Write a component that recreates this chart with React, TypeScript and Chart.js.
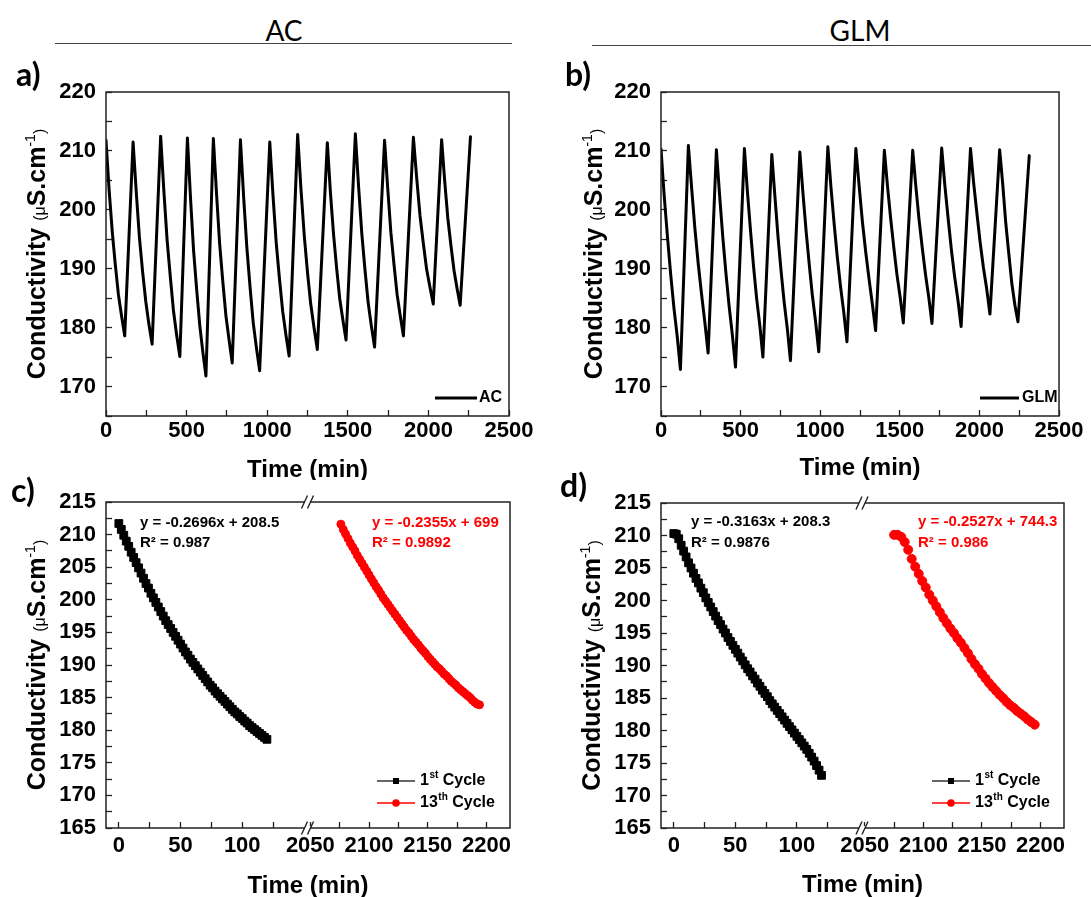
import { useEffect, useRef } from "react";
import { Chart, registerables } from "chart.js";

Chart.register(...registerables);

const AXIS_FONT = "'Liberation Sans', Arial, Helvetica, sans-serif";
const HEAD_FONT = "Lato, 'Open Sans', sans-serif";
Chart.defaults.font.family = AXIS_FONT;

// ---------------- data ----------------
// a) AC, full run: each cycle = peak, points along the decay, trough
const acTime = [
  0, 19, 39, 58, 77, 97, 116,
  168, 188, 207, 227, 247, 266, 286,
  339, 359, 379, 399, 418, 438, 458,
  505, 524, 543, 563, 582, 601, 620,
  666, 686, 705, 725, 744, 764, 783,
  834, 854, 874, 894, 913, 933, 953,
  1016, 1036, 1056, 1076, 1096, 1116, 1136,
  1189, 1209, 1230, 1250, 1270, 1291, 1311,
  1373, 1392, 1412, 1431, 1450, 1470, 1489,
  1547, 1567, 1587, 1607, 1626, 1646, 1666,
  1728, 1748, 1767, 1787, 1806, 1826, 1845,
  1907, 1928, 1948, 1969, 1989, 2010, 2030,
  2082, 2101, 2120, 2140, 2159, 2178, 2197,
  2261,
];
const acCond = [
  211.8, 203.5, 196.2, 190.6, 185.6, 181.9, 178.6,
  211.5, 202.9, 195.4, 189.5, 184.4, 180.6, 177.2,
  212.5, 203.2, 194.9, 188.6, 183.0, 178.8, 175.1,
  212.2, 202.1, 193.2, 186.3, 180.3, 175.8, 171.8,
  212.1, 202.6, 194.2, 187.7, 182.0, 177.8, 174.0,
  211.9, 202.1, 193.5, 186.8, 180.9, 176.6, 172.7,
  211.5, 202.4, 194.4, 188.3, 182.8, 178.8, 175.2,
  212.8, 203.7, 195.6, 189.4, 184.0, 179.9, 176.3,
  211.4, 203.0, 195.7, 190.0, 184.9, 181.2, 177.9,
  212.9, 203.9, 195.9, 189.7, 184.3, 180.3, 176.7,
  211.8, 203.5, 196.2, 190.6, 185.6, 181.9, 178.6,
  212.3, 205.2, 199.0, 194.2, 189.9, 186.8, 184.0,
  211.9, 204.9, 198.7, 193.9, 189.7, 186.6, 183.8,
  212.4,
];

// b) GLM, full run
const glmTime = [
  0, 20, 41, 61, 81, 102, 122,
  172, 193, 213, 234, 255, 275, 296,
  348, 368, 388, 408, 428, 448, 468,
  524, 543, 563, 582, 601, 621, 640,
  696, 716, 735, 755, 774, 794, 813,
  872, 892, 912, 932, 951, 971, 991,
  1048, 1068, 1088, 1108, 1128, 1148, 1168,
  1224, 1245, 1265, 1286, 1307, 1327, 1348,
  1403, 1423, 1443, 1463, 1482, 1502, 1522,
  1581, 1601, 1621, 1642, 1662, 1682, 1702,
  1763, 1783, 1804, 1824, 1844, 1865, 1885,
  1944, 1964, 1985, 2005, 2025, 2046, 2066,
  2127, 2146, 2165, 2184, 2204, 2223, 2242,
  2313,
];
const glmCond = [
  210.3, 202.4, 195.3, 189.0, 183.4, 178.5, 172.9,
  210.9, 203.5, 196.8, 190.8, 185.6, 181.0, 175.7,
  210.2, 202.5, 195.4, 189.2, 183.6, 178.8, 173.3,
  210.4, 203.0, 196.2, 190.2, 184.9, 180.3, 175.0,
  209.4, 202.1, 195.4, 189.4, 184.2, 179.7, 174.4,
  209.8, 202.7, 196.2, 190.5, 185.4, 181.0, 175.9,
  210.7, 203.7, 197.5, 191.8, 186.9, 182.6, 177.6,
  210.4, 203.9, 198.0, 192.8, 188.2, 184.1, 179.5,
  210.1, 203.9, 198.4, 193.4, 189.0, 185.2, 180.8,
  210.1, 203.9, 198.3, 193.3, 188.9, 185.1, 180.7,
  210.5, 204.1, 198.4, 193.2, 188.7, 184.7, 180.2,
  210.4, 204.5, 199.2, 194.4, 190.2, 186.5, 182.3,
  210.2, 204.5, 197.9, 192.7, 187.4, 183.8, 181.0,
  209.2,
];

// c) AC 1st cycle (every 2 min) and 13th cycle
const acC1Time = [0, 2, 4, 6, 8, 10, 12, 14, 16, 18, 20, 22, 24, 26, 28, 30, 32, 34, 36, 38, 40, 42, 44, 46, 48, 50, 52, 54, 56, 58, 60, 62, 64, 66, 68, 70, 72, 74, 76, 78, 80, 82, 84, 86, 88, 90, 92, 94, 96, 98, 100, 102, 104, 106, 108, 110, 112, 114, 116, 118, 120];
const acC1Cond = [211.7, 210.8, 209.9, 209.0, 208.2, 207.3, 206.5, 205.7, 204.9, 204.1, 203.3, 202.5, 201.8, 201.0, 200.3, 199.6, 198.9, 198.2, 197.5, 196.8, 196.2, 195.6, 195.0, 194.4, 193.8, 193.2, 192.6, 192.0, 191.5, 190.9, 190.4, 189.9, 189.4, 188.9, 188.4, 187.9, 187.4, 186.9, 186.5, 186.0, 185.6, 185.2, 184.8, 184.4, 184.0, 183.6, 183.2, 182.8, 182.5, 182.1, 181.8, 181.4, 181.1, 180.7, 180.4, 180.1, 179.8, 179.5, 179.2, 178.9, 178.6];
const acC13Time = [2076, 2078, 2080, 2082, 2084, 2086, 2088, 2090, 2092, 2094, 2096, 2098, 2100, 2102, 2104, 2106, 2108, 2110, 2112, 2114, 2116, 2118, 2120, 2122, 2124, 2126, 2128, 2130, 2132, 2134, 2136, 2138, 2140, 2142, 2144, 2146, 2148, 2150, 2152, 2154, 2156, 2158, 2160, 2162, 2164, 2166, 2168, 2170, 2172, 2174, 2176, 2178, 2180, 2182, 2184, 2186, 2188, 2190, 2192, 2194];
const acC13Cond = [211.6, 210.8, 210.1, 209.4, 208.7, 208.1, 207.5, 206.8, 206.2, 205.6, 205.0, 204.4, 203.8, 203.2, 202.6, 202.0, 201.5, 200.9, 200.3, 199.8, 199.3, 198.8, 198.3, 197.8, 197.3, 196.8, 196.3, 195.8, 195.3, 194.9, 194.4, 193.9, 193.5, 193.1, 192.6, 192.2, 191.8, 191.3, 190.9, 190.5, 190.1, 189.7, 189.4, 189.0, 188.6, 188.3, 187.9, 187.5, 187.2, 186.9, 186.5, 186.2, 185.9, 185.6, 185.3, 185.0, 184.6, 184.3, 184.0, 183.9];

// d) GLM 1st cycle (every 2 min) and 13th cycle (every 3 min)
const glmC1Time = [0, 2, 4, 6, 8, 10, 12, 14, 16, 18, 20, 22, 24, 26, 28, 30, 32, 34, 36, 38, 40, 42, 44, 46, 48, 50, 52, 54, 56, 58, 60, 62, 64, 66, 68, 70, 72, 74, 76, 78, 80, 82, 84, 86, 88, 90, 92, 94, 96, 98, 100, 102, 104, 106, 108, 110, 112, 114, 116, 118, 120];
const glmC1Cond = [210.3, 210.2, 209.5, 208.5, 207.6, 206.7, 205.8, 205.0, 204.2, 203.4, 202.7, 201.9, 201.2, 200.4, 199.7, 199.0, 198.3, 197.6, 196.9, 196.3, 195.6, 195.0, 194.3, 193.7, 193.1, 192.5, 191.9, 191.3, 190.7, 190.1, 189.5, 189.0, 188.4, 187.9, 187.3, 186.8, 186.2, 185.7, 185.2, 184.6, 184.1, 183.6, 183.1, 182.6, 182.1, 181.6, 181.1, 180.6, 180.1, 179.6, 179.1, 178.6, 178.1, 177.6, 177.1, 176.5, 175.9, 175.3, 174.6, 173.9, 173.1];
const glmC13Time = [2075, 2078, 2081, 2084, 2087, 2090, 2093, 2096, 2099, 2102, 2105, 2108, 2111, 2114, 2117, 2120, 2123, 2126, 2129, 2132, 2135, 2138, 2141, 2144, 2147, 2150, 2153, 2156, 2159, 2162, 2165, 2168, 2171, 2174, 2177, 2180, 2183, 2186, 2189, 2192, 2195];
const glmC13Cond = [210.1, 210.1, 209.8, 209.0, 207.8, 206.4, 205.2, 204.1, 203.0, 202.0, 200.9, 200.0, 199.1, 198.2, 197.3, 196.5, 195.7, 195.0, 194.2, 193.5, 192.7, 191.9, 191.0, 190.2, 189.5, 188.7, 188.0, 187.3, 186.7, 186.1, 185.5, 185.0, 184.4, 183.9, 183.5, 183.0, 182.6, 182.2, 181.7, 181.3, 180.9];

// tick labels
const fullXLabels = [0, 500, 1000, 1500, 2000, 2500];
const fullYLabels = [170, 180, 190, 200, 210, 220];
const zoomYLabels = [165, 170, 175, 180, 185, 190, 195, 200, 205, 210, 215];
const breakLeftLabels = [0, 50, 100];
const breakRightLabels = [2050, 2100, 2150, 2200];
const hiddenLeftTicks = [150];

const acFit1 = ["y = -0.2696x + 208.5", "R\u00B2 = 0.987"];
const acFit13 = ["y = -0.2355x + 699", "R\u00B2 = 0.9892"];
const glmFit1 = ["y = -0.3163x + 208.3", "R\u00B2 = 0.9876"];
const glmFit13 = ["y = -0.2527x + 744.3", "R\u00B2 = 0.986"];

// ---------------- helpers ----------------
const pts = (xs: number[], ys: number[]) => xs.map((x, i) => ({ x, y: ys[i] }));
const has = (arr: number[], v: number) => arr.some((a) => Math.abs(a - v) < 1e-6);

const tickFont = { family: AXIS_FONT, size: 22, weight: "bold" as const };

function gridOpts(hidden: number[] = []) {
  return {
    display: true,
    drawOnChartArea: false,
    drawTicks: true,
    tickLength: -6,
    tickWidth: 1.3,
    tickColor: (c: any) => (c.tick && has(hidden, c.tick.value) ? "rgba(0,0,0,0)" : "#222"),
  };
}

function drawYTitle(ctx: CanvasRenderingContext2D, bx: number, cy: number) {
  const parts = [
    { t: "Conductivity ", f: `bold 25px ${AXIS_FONT}`, dy: 0 },
    { t: "(", f: `16px ${AXIS_FONT}`, dy: 0 },
    { t: "\u03BC", f: `16px ${AXIS_FONT}`, dy: 0 },
    { t: "S.cm", f: `bold 25px ${AXIS_FONT}`, dy: 0 },
    { t: "-1", f: `14px ${AXIS_FONT}`, dy: -10 },
    { t: ")", f: `16px ${AXIS_FONT}`, dy: 0 },
  ];
  let total = 0;
  const widths = parts.map((p) => {
    ctx.font = p.f;
    const w = ctx.measureText(p.t).width;
    total += w;
    return w;
  });
  ctx.save();
  ctx.translate(bx, cy);
  ctx.rotate(-Math.PI / 2);
  ctx.fillStyle = "#000";
  ctx.textAlign = "left";
  ctx.textBaseline = "alphabetic";
  let x = -total / 2;
  parts.forEach((p, i) => {
    ctx.font = p.f;
    ctx.fillText(p.t, x, p.dy);
    x += widths[i];
  });
  ctx.restore();
}

function drawSupText(ctx: CanvasRenderingContext2D, x: number, y: number, a: string, sup: string, b: string) {
  ctx.textAlign = "left";
  ctx.textBaseline = "middle";
  ctx.fillStyle = "#000";
  ctx.font = `bold 16px ${AXIS_FONT}`;
  ctx.fillText(a, x, y);
  let cx = x + ctx.measureText(a).width;
  ctx.font = `bold 10px ${AXIS_FONT}`;
  ctx.fillText(sup, cx + 0.5, y - 6);
  cx += ctx.measureText(sup).width + 0.5;
  ctx.font = `bold 16px ${AXIS_FONT}`;
  ctx.fillText(b, cx, y);
}

type Deco = {
  letter: string;
  letterX: number;
  letterY: number;
  titleX: number;
  timeY: number;
  lineLegend?: { x1: number; x2: number; y: number; tx: number; text: string };
  cycleLegend?: { x1: number; x2: number; mx: number; tx: number; y1: number; y2: number };
  eqs?: { x: number; color: string; lines: string[] }[];
  eqY?: number[];
  breakAxis?: boolean;
};

function makeDeco(d: Deco) {
  return {
    id: "deco",
    afterDraw(chart: any) {
      const ctx: CanvasRenderingContext2D = chart.ctx;
      const ca = chart.chartArea;
      ctx.save();
      ctx.strokeStyle = "#222";
      ctx.lineWidth = 1.5;
      ctx.strokeRect(ca.left, ca.top, ca.right - ca.left, ca.bottom - ca.top);

      if (d.breakAxis) {
        const bx = chart.scales.x1.right;
        for (const yy of [ca.top, ca.bottom]) {
          ctx.fillStyle = "#fff";
          ctx.fillRect(bx - 3.5, yy - 2, 6, 4);
          ctx.beginPath();
          ctx.moveTo(bx - 6.5, yy + 6.5);
          ctx.lineTo(bx - 0.5, yy - 6.5);
          ctx.moveTo(bx - 0.5, yy + 6.5);
          ctx.lineTo(bx + 5.5, yy - 6.5);
          ctx.lineWidth = 1.4;
          ctx.strokeStyle = "#222";
          ctx.stroke();
        }
      }

      // panel letter
      ctx.fillStyle = "#000";
      ctx.font = `bold 32px ${HEAD_FONT}`;
      ctx.textAlign = "left";
      ctx.textBaseline = "alphabetic";
      ctx.fillText(d.letter, d.letterX, d.letterY);

      // axis titles
      drawYTitle(ctx, d.titleX, (ca.top + ca.bottom) / 2);
      ctx.font = `bold 24px ${AXIS_FONT}`;
      ctx.textAlign = "center";
      ctx.textBaseline = "middle";
      ctx.fillStyle = "#000";
      ctx.fillText("Time (min)", (ca.left + ca.right) / 2, d.timeY);

      if (d.lineLegend) {
        const L = d.lineLegend;
        ctx.beginPath();
        ctx.moveTo(L.x1, L.y);
        ctx.lineTo(L.x2, L.y);
        ctx.lineWidth = 3;
        ctx.strokeStyle = "#000";
        ctx.stroke();
        ctx.font = `bold 16px ${AXIS_FONT}`;
        ctx.textAlign = "left";
        ctx.textBaseline = "middle";
        ctx.fillText(L.text, L.tx, L.y);
      }

      if (d.cycleLegend) {
        const L = d.cycleLegend;
        ctx.beginPath();
        ctx.moveTo(L.x1, L.y1);
        ctx.lineTo(L.x2, L.y1);
        ctx.lineWidth = 1.5;
        ctx.strokeStyle = "#333";
        ctx.stroke();
        ctx.fillStyle = "#000";
        ctx.fillRect(L.mx - 3, L.y1 - 3, 6, 6);
        ctx.beginPath();
        ctx.moveTo(L.x1, L.y2);
        ctx.lineTo(L.x2, L.y2);
        ctx.strokeStyle = "#ff0000";
        ctx.stroke();
        ctx.beginPath();
        ctx.arc(L.mx, L.y2, 3.8, 0, Math.PI * 2);
        ctx.fillStyle = "#ff0000";
        ctx.fill();
        drawSupText(ctx, L.tx, L.y1, "1", "st", " Cycle");
        drawSupText(ctx, L.tx, L.y2, "13", "th", " Cycle");
      }

      if (d.eqs && d.eqY) {
        ctx.font = `bold 15px ${AXIS_FONT}`;
        ctx.textAlign = "left";
        ctx.textBaseline = "middle";
        for (const e of d.eqs) {
          ctx.fillStyle = e.color;
          e.lines.forEach((ln, i) => ctx.fillText(ln, e.x, d.eqY![i]));
        }
      }
      ctx.restore();
    },
  };
}

function fullRunConfig(xs: number[], ys: number[], deco: Deco, padRight: number) {
  return {
    type: "scatter",
    data: {
      datasets: [
        {
          data: pts(xs, ys),
          showLine: true,
          borderColor: "#000",
          borderWidth: 3,
          pointRadius: 0,
          borderJoinStyle: "round",
          borderCapStyle: "round",
          tension: 0,
        },
      ],
    },
    options: {
      responsive: false,
      animation: false,
      devicePixelRatio: 1,
      events: [],
      layout: { padding: { left: 0, top: 32, right: padRight, bottom: 0 } },
      plugins: { legend: { display: false }, tooltip: { enabled: false } },
      scales: {
        x: {
          type: "linear",
          min: 0,
          max: 2500,
          afterFit: (s: any) => {
            s.height = 64;
          },
          ticks: {
            stepSize: 250,
            maxTicksLimit: 100,
            autoSkip: false,
            includeBounds: false,
            maxRotation: 0,
            minRotation: 0,
            padding: 7.5,
            color: "#000",
            font: tickFont,
            callback: (v: number) => (has(fullXLabels, v) ? String(v) : ""),
          },
          grid: gridOpts(),
          border: { display: false },
        },
        y: {
          type: "linear",
          min: 165,
          max: 220,
          afterFit: (s: any) => {
            s.width = 106;
          },
          ticks: {
            stepSize: 5,
            maxTicksLimit: 100,
            autoSkip: false,
            includeBounds: false,
            padding: 16,
            color: "#000",
            font: tickFont,
            callback: (v: number) => (has(fullYLabels, v) ? String(v) : ""),
          },
          grid: gridOpts(),
          border: { display: false },
        },
      },
    },
    plugins: [makeDeco(deco)],
  };
}

function cycleConfig(
  x1: number[], y1: number[], x13: number[], y13: number[], deco: Deco, padRight: number, padTop: number, redRadius: number
) {
  const xCommon = (labels: number[], hidden: number[]) => ({
    type: "linear",
    position: "bottom",
    stack: "brk",
    stackWeight: 1,
    afterFit: (s: any) => {
      s.height = 69;
    },
    ticks: {
      stepSize: 25,
      maxTicksLimit: 100,
      autoSkip: false,
      includeBounds: false,
      maxRotation: 0,
      minRotation: 0,
      padding: 11,
      color: "#000",
      font: tickFont,
      callback: (v: number) => (has(labels, v) ? String(v) : ""),
    },
    grid: gridOpts(hidden),
    border: { display: false },
  });
  return {
    type: "scatter",
    data: {
      datasets: [
        {
          data: pts(x1, y1),
          xAxisID: "x1",
          yAxisID: "y",
          showLine: true,
          borderColor: "#000",
          borderWidth: 1,
          pointStyle: "rect",
          pointRadius: 5.5,
          pointBorderWidth: 1,
          pointBackgroundColor: "#000",
          pointBorderColor: "#000",
        },
        {
          data: pts(x13, y13),
          xAxisID: "x2",
          yAxisID: "y",
          showLine: true,
          borderColor: "#ff0000",
          borderWidth: 1,
          pointStyle: "circle",
          pointRadius: redRadius,
          pointBorderWidth: 1,
          pointBackgroundColor: "#ff0000",
          pointBorderColor: "#ff0000",
        },
      ],
    },
    options: {
      responsive: false,
      animation: false,
      devicePixelRatio: 1,
      events: [],
      layout: { padding: { left: 0, top: padTop, right: padRight, bottom: 0 } },
      plugins: { legend: { display: false }, tooltip: { enabled: false } },
      scales: {
        x1: { ...xCommon(breakLeftLabels, hiddenLeftTicks), min: -10.4, max: 153.3 },
        x2: { ...xCommon(breakRightLabels, []), min: 2048, max: 2220 },
        y: {
          type: "linear",
          position: "left",
          min: 165,
          max: 215,
          afterFit: (s: any) => {
            s.width = 106;
          },
          ticks: {
            stepSize: 2.5,
            maxTicksLimit: 100,
            autoSkip: false,
            includeBounds: false,
            padding: 16,
            color: "#000",
            font: tickFont,
            callback: (v: number) => (has(zoomYLabels, v) ? String(v) : ""),
          },
          grid: gridOpts(),
          border: { display: false },
        },
      },
    },
    plugins: [makeDeco(deco)],
  };
}

function ChartBox(props: { left: number; top: number; width: number; height: number; make: () => any }) {
  const ref = useRef<HTMLCanvasElement>(null);
  useEffect(() => {
    if (!ref.current) return;
    const chart = new Chart(ref.current, props.make());
    return () => chart.destroy();
  }, []);
  return (
    <canvas
      ref={ref}
      width={props.width}
      height={props.height}
      style={{ position: "absolute", left: props.left, top: props.top, width: props.width, height: props.height }}
    />
  );
}

export default function App() {
  const head = {
    position: "absolute" as const,
    top: 12,
    width: 200,
    textAlign: "center" as const,
    font: `400 28px ${HEAD_FONT}`,
    lineHeight: "36px",
    color: "#000",
  };
  return (
    <div style={{ position: "absolute", left: 0, top: 0, width: 1091, height: 897, background: "#fff", overflow: "hidden" }}>
      <div style={{ ...head, left: 184 }}>AC</div>
      <div style={{ ...head, left: 760 }}>GLM</div>
      <div style={{ position: "absolute", left: 55, top: 43, width: 457, borderTop: "1px solid #444" }} />
      <div style={{ position: "absolute", left: 592, top: 45, width: 499, borderTop: "1px solid #444" }} />

      <ChartBox
        left={0}
        top={60}
        width={545}
        height={420}
        make={() =>
          fullRunConfig(acTime, acCond, {
            letter: "a)", letterX: 16, letterY: 26, titleX: 45, timeY: 410,
            lineLegend: { x1: 435, x2: 477, y: 338, tx: 479, text: "AC" },
          }, 36)
        }
      />
      <ChartBox
        left={555}
        top={60}
        width={536}
        height={420}
        make={() =>
          fullRunConfig(glmTime, glmCond, {
            letter: "b)", letterX: 10, letterY: 26, titleX: 47, timeY: 408,
            lineLegend: { x1: 425, x2: 464, y: 338, tx: 467, text: "GLM" },
          }, 27)
        }
      />
      <ChartBox
        left={0}
        top={460}
        width={545}
        height={437}
        make={() =>
          cycleConfig(acC1Time, acC1Cond, acC13Time, acC13Cond, {
            letter: "c)", letterX: 11, letterY: 42, titleX: 45, timeY: 426,
            cycleLegend: { x1: 377, x2: 415, mx: 396, tx: 420, y1: 321, y2: 343 },
            eqs: [
              { x: 140, color: "#000", lines: acFit1 },
              { x: 372, color: "#ff0000", lines: acFit13 },
            ],
            eqY: [63, 83],
            breakAxis: true,
          }, 35, 42, 4)
        }
      />
      <ChartBox
        left={555}
        top={460}
        width={536}
        height={437}
        make={() =>
          cycleConfig(glmC1Time, glmC1Cond, glmC13Time, glmC13Cond, {
            letter: "d)", letterX: 5, letterY: 37, titleX: 45, timeY: 425,
            cycleLegend: { x1: 377, x2: 415, mx: 396, tx: 420, y1: 321, y2: 343 },
            eqs: [
              { x: 136, color: "#000", lines: glmFit1 },
              { x: 363, color: "#ff0000", lines: glmFit13 },
            ],
            eqY: [62, 83],
            breakAxis: true,
          }, 27, 43, 4.5)
        }
      />
    </div>
  );
}
